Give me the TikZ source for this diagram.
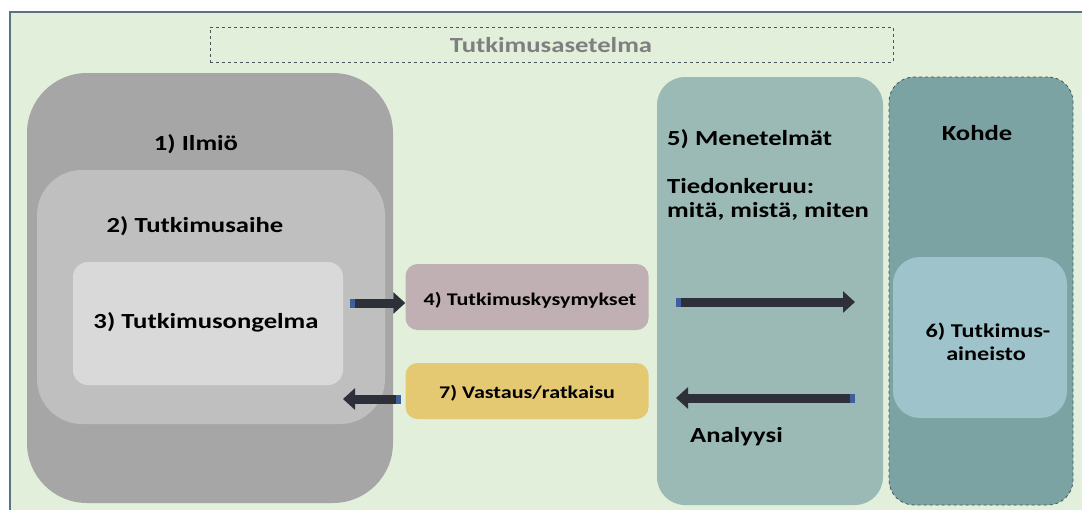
\documentclass[tikz,border=0pt]{standalone}
\usepackage{fontspec}
\setmainfont{Carlito}[FakeStretch=1.24]
\usetikzlibrary{arrows.meta}
\definecolor{bg}{HTML}{E2EFDA}
\definecolor{bordc}{HTML}{5B7282}
\definecolor{cA}{HTML}{A6A6A6}
\definecolor{cB}{HTML}{BFBFBF}
\definecolor{cC}{HTML}{D9D9D9}
\definecolor{cD}{HTML}{C0B0B3}
\definecolor{cE}{HTML}{E5C972}
\definecolor{cF}{HTML}{9BBAB6}
\definecolor{cK}{HTML}{7BA3A4}
\definecolor{cG}{HTML}{9EC3CB}
\definecolor{arrc}{HTML}{2E3039}
\definecolor{tailc}{HTML}{3F5E9C}
\definecolor{titlec}{HTML}{7F7F7F}
\definecolor{dashc}{HTML}{4A545A}
\begin{document}
\begin{tikzpicture}[x=1pt,y=-1pt,
  box/.style={rectangle, draw=none, inner sep=0pt},
  lbl/.style={font=\fontsize{21.5}{24}\selectfont\bfseries, text=black, inner sep=0pt},
  slbl/.style={font=\fontsize{17.8}{21}\selectfont\bfseries, text=black, inner sep=0pt},
  mlbl/.style={font=\fontsize{19.5}{22}\selectfont\bfseries, text=black, inner sep=0pt},
  fat/.style={draw=arrc, line width=9pt, -{Triangle[length=12pt,width=21pt]}},
  tailseg/.style={draw=tailc, line width=9pt, line cap=butt}]
\useasboundingbox (0,0) rectangle (1082,509);
\fill[white] (0,0) rectangle (1082,509);
\draw[fill=bg, draw=bordc, line width=1.2pt] (10,12) rectangle (1095,525);
% title
\node[box, draw=dashc, dashed, line width=0.8pt, minimum width=683pt, minimum height=35pt] (tbox) at (551.5,44.5) {};
\node[anchor=base, inner sep=0pt, font=\fontsize{21.5}{24}\selectfont\bfseries, text=titlec] (tt) at (551,52) {Tutkimusasetelma};
% left nested boxes
\node[box, fill=cA, rounded corners=60pt, minimum width=366pt, minimum height=430pt] (b1) at (210,288) {};
\node[box, fill=cB, rounded corners=45pt, minimum width=348pt, minimum height=254pt] (b2) at (211,297) {};
\node[box, fill=cC, rounded corners=15pt, minimum width=270pt, minimum height=123pt] (b3) at (208,323.5) {};
% middle boxes
\node[box, fill=cD, rounded corners=12pt, minimum width=243pt, minimum height=66pt] (b4) at (527,297) {};
\node[box, fill=cE, rounded corners=12pt, minimum width=243pt, minimum height=56pt] (b7) at (527,391) {};
% right boxes
\node[box, fill=cF, rounded corners=28pt, minimum width=226pt, minimum height=428pt] (b5) at (770,291) {};
\node[box, fill=cK, draw=dashc, dashed, line width=0.8pt, rounded corners=25pt, minimum width=184pt, minimum height=428pt] (bk) at (981,291) {};
\node[box, fill=cG, rounded corners=27pt, minimum width=174pt, minimum height=161pt] (b6) at (980,337.5) {};
% labels
\node[lbl, anchor=base] (t1) at (196,150) {1) Ilmiö};
\node[lbl, anchor=base] (t2) at (195,232) {2) Tutkimusaihe};
\node[lbl, anchor=base] (t3) at (206,328) {3) Tutkimusongelma};
\node[slbl, anchor=base] (t4) at (530,305) {4) Tutkimuskysymykset};
\node[slbl, anchor=base] (t7) at (527,398) {7) Vastaus/ratkaisu};
\node[lbl, anchor=base west] (t5) at (667,145) {5) Menetelmät};
\node[lbl, anchor=base west] (tk1) at (667,193) {Tiedonkeruu:};
\node[lbl, anchor=base west] (tk2) at (667,217) {mitä, mistä, miten};
\node[lbl, anchor=base west] (ta) at (690,442) {Analyysi};
\node[lbl, anchor=base] (tko) at (977,140) {Kohde};
\node[mlbl, anchor=base] (t6a) at (988,337) {6) Tutkimus-};
\node[mlbl, anchor=base] (t6b) at (986,360) {aineisto};
% arrows
\coordinate (a1s) at (350,303);
\draw[fat] (a1s) -- (a1s -| b4.west);
\draw[tailseg] (a1s) -- ++(5,0);
\coordinate (a2s) at (676,302);
\coordinate (a2e) at (855,302);
\draw[fat] (a2s) -- (a2e);
\draw[tailseg] (a2s) -- ++(5,0);
\coordinate (a3s) at (855,398);
\coordinate (a3e) at (676,398);
\draw[fat] (a3s) -- (a3e);
\draw[tailseg] (a3s) -- ++(-5,0);
\coordinate (a4s) at (401,399);
\coordinate (a4e) at (343,399);
\draw[fat] (a4s) -- (a4e);
\draw[tailseg] (a4s) -- ++(-5,0);
\end{tikzpicture}
\end{document}
